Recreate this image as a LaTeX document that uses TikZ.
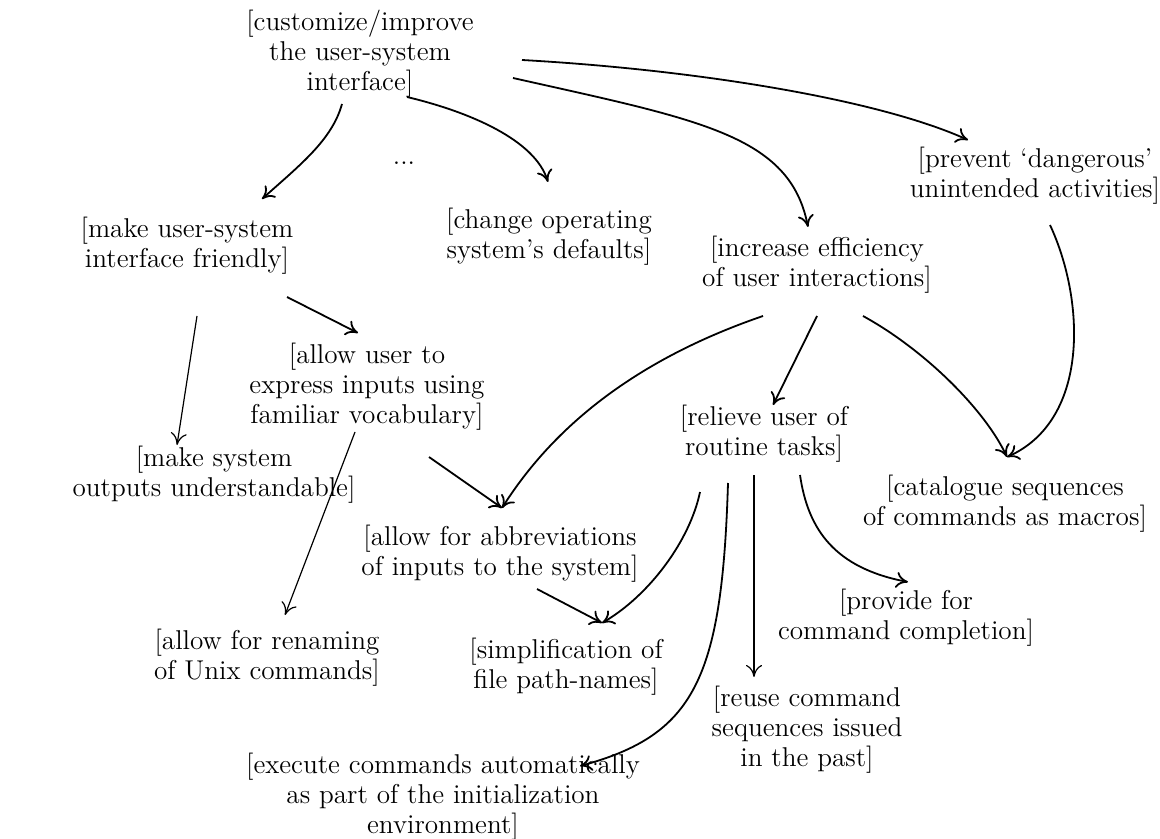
\documentclass[tikz,border=0pt]{standalone}
\usetikzlibrary{arrows.meta,calc}
\begin{document}
\begin{tikzpicture}[x=0.5pt,y=-0.5pt,
  lbl/.style={align=center,inner sep=0pt,font=\fontsize{13.6}{15}\selectfont},
  arr/.style={-{To[length=6pt,width=8pt]},line width=0.9pt},
  thin arr/.style={arr,line width=0.6pt}]
\useasboundingbox (0,0) rectangle (1160,839);

% goal nodes
\node[lbl] (top)       at (360,53.5)  {[customize/improve\\the user-system\\interface]};
\node[lbl] (friendly)  at (187,245.5) {[make user-system\\interface friendly]};
\node[lbl,anchor=base] (dots) at (404,165) {...};
\node[lbl] (change)    at (549,236.5) {[change operating\\system’s defaults]};
\node[lbl] (increase)  at (817,265)   {[increase efficiency\\of user interactions]};
\node[lbl] (prevent)   at (1035,176)  {[prevent ‘dangerous’\\unintended activities]};
\node[lbl] (allowuser) at (367,386.5) {[allow user to\\express inputs using\\familiar vocabulary]};
\node[lbl] (outputs)   at (214,475)   {[make system\\outputs understandable]};
\node[lbl] (relieve)   at (764,434)   {[relieve user of\\routine tasks]};
\node[lbl] (catalogue) at (1005,503.5){[catalogue sequences\\of commands as macros]};
\node[lbl] (abbrev)    at (500,553.5) {[allow for abbreviations\\of inputs to the system]};
\node[lbl] (renaming)  at (267,657.5) {[allow for renaming\\of Unix commands]};
\node[lbl] (simplif)   at (566,666.5) {[simplification of\\file path-names]};
\node[lbl] (provide)   at (906,617.5) {[provide for\\command completion]};
\node[lbl] (reuse)     at (807,730)   {[reuse command\\sequences issued\\in the past]};
\node[lbl] (execute)   at (443,796.5) {[execute commands automatically\\as part of the initialization\\environment]};

% refinement links
\draw[arr] ($(top)+(-18,50.5)$) .. controls +(-10,36) and +(38,-34) .. ($(friendly)+(75,-46.5)$);
\draw[arr] ($(top)+(47,43.5)$) .. controls +(63,15) and +(-13,-42) .. ($(change)+(-1,-54.5)$);
\draw[arr] ($(top)+(153,24.5)$) .. controls +(187,42) and +(-18,-92) .. ($(increase)+(-9,-38)$);
\draw[arr] ($(top)+(162,6.5)$) .. controls +(178,10) and +(-88,-40) .. ($(prevent)+(-67,-36)$);

\draw[arr] ($(friendly)+(100,51.5)$) -- ($(allowuser)+(-9,-53.5)$);
\draw[thin arr] ($(friendly)+(10,70.5)$) -- ($(outputs)+(-37,-30)$);

\draw[thin arr] ($(allowuser)+(-12,45.5)$) -- ($(renaming)+(18,-42.5)$);
\draw[arr] ($(allowuser)+(62,70.5)$) -- ($(abbrev)+(2,-45.5)$);

\draw[arr] ($(increase)+(-54,51)$) .. controls +(-143,49) and +(43,-68) .. ($(abbrev)+(2,-45.5)$);
\draw[arr] ($(increase)+(0,51)$) -- ($(relieve)+(9,-29)$);
\draw[arr] ($(increase)+(46,51)$) .. controls +(62,34) and +(-22,-47) .. ($(catalogue)+(2,-46.5)$);
\draw[arr] ($(prevent)+(15,49)$) .. controls +(35,75) and +(83,-37) .. ($(catalogue)+(2,-46.5)$);

\draw[arr] ($(abbrev)+(37,35.5)$) -- ($(simplif)+(36,-43.5)$);
\draw[arr] ($(relieve)+(-64,58)$) .. controls +(-10,48) and +(48,-28) .. ($(simplif)+(36,-43.5)$);
\draw[arr] ($(relieve)+(-36,49)$) .. controls +(-6,197) and +(114,-31) .. ($(execute)+(137,-30.5)$);
\draw[thin arr] ($(relieve)+(-10,41)$) -- ($(reuse)+(-53,-53)$);
\draw[arr] ($(relieve)+(36,41)$) .. controls +(8,55) and +(-73,-14) .. ($(provide)+(2,-35.5)$);
\end{tikzpicture}
\end{document}
